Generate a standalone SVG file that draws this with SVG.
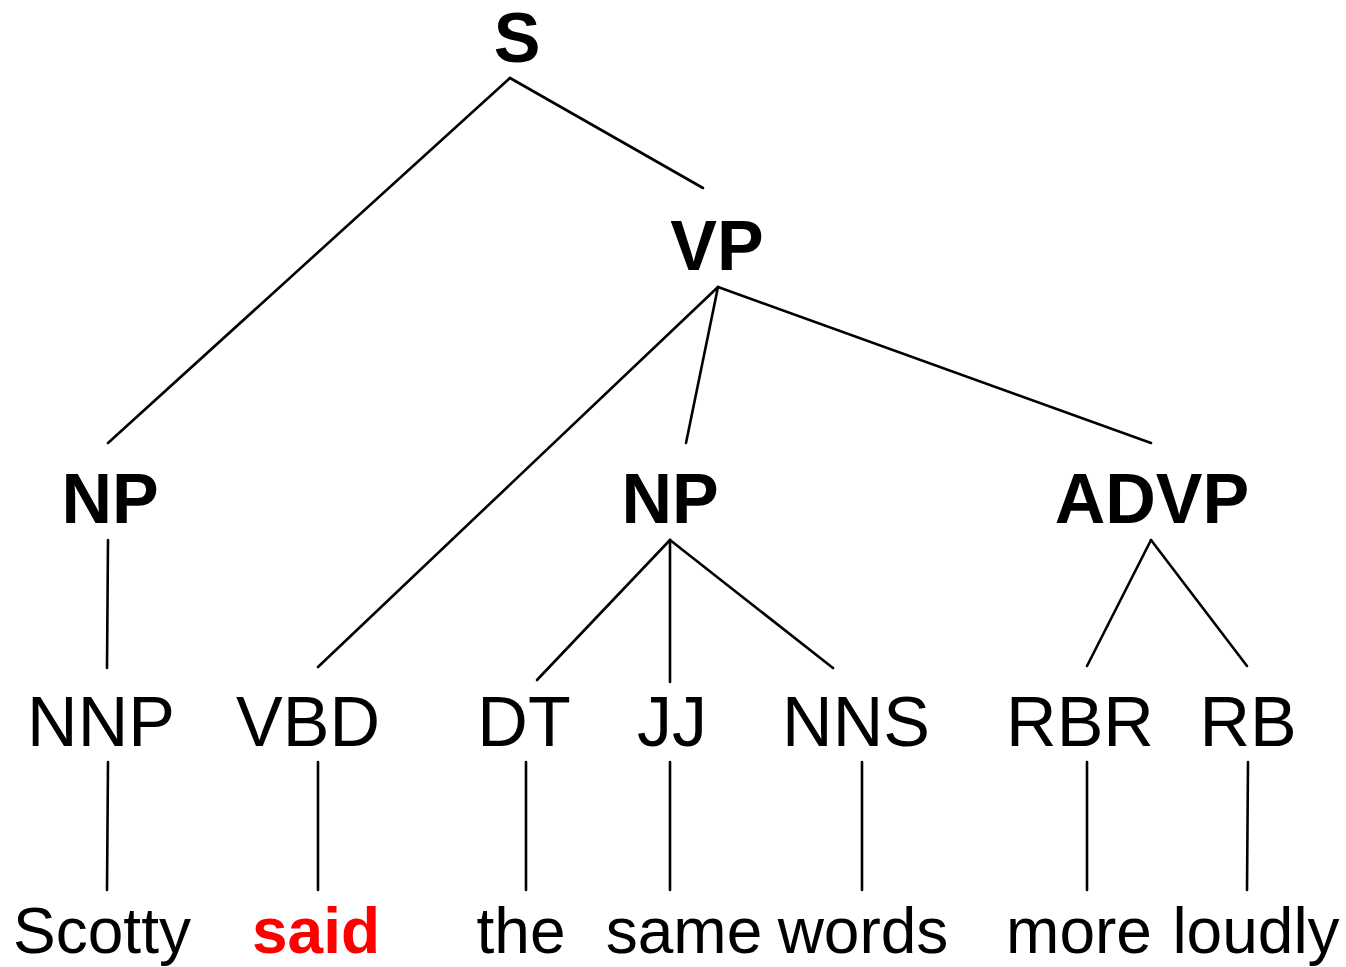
<svg xmlns="http://www.w3.org/2000/svg" width="1346" height="967" viewBox="0 0 1346 967">
  <style>
    .phrase { font-family: "Liberation Sans", Arial, sans-serif; font-weight: bold; font-size: 70px; fill: #000; text-anchor: middle; }
    .tag { font-family: "Liberation Sans", Arial, sans-serif; font-size: 70px; fill: #000; text-anchor: middle; }
    .word { font-family: "Liberation Sans", Arial, sans-serif; font-size: 64px; fill: #000; text-anchor: middle; }
    .head { font-weight: bold; fill: #ff0000; }
    .edge { stroke: #000; stroke-width: 2.6; fill: none; stroke-linecap: round; }
  </style>
  <rect width="1346" height="967" fill="#fff"/>

  <g id="connectors">
    <line class="edge" x1="510" y1="78" x2="108" y2="443"/>
    <line class="edge" x1="510" y1="78" x2="703" y2="188"/>
    <line class="edge" x1="718" y1="287" x2="318" y2="667"/>
    <line class="edge" x1="718" y1="287" x2="686" y2="443"/>
    <line class="edge" x1="718" y1="287" x2="1151" y2="443"/>
    <line class="edge" x1="108" y1="540" x2="107" y2="668"/>
    <line class="edge" x1="670" y1="540" x2="537" y2="680"/>
    <line class="edge" x1="670" y1="540" x2="670" y2="682"/>
    <line class="edge" x1="670" y1="540" x2="833" y2="668"/>
    <line class="edge" x1="1151" y1="540" x2="1087" y2="666"/>
    <line class="edge" x1="1151" y1="540" x2="1247" y2="666"/>
    <line class="edge" x1="108" y1="762" x2="107" y2="890"/>
    <line class="edge" x1="318" y1="762" x2="318" y2="890"/>
    <line class="edge" x1="526" y1="762" x2="526" y2="890"/>
    <line class="edge" x1="670" y1="762" x2="670" y2="890"/>
    <line class="edge" x1="862" y1="762" x2="862" y2="890"/>
    <line class="edge" x1="1087" y1="762" x2="1087" y2="890"/>
    <line class="edge" x1="1248" y1="762" x2="1247" y2="890"/>
  </g>

  <g id="node-S"><text class="phrase" x="517" y="62">S</text></g>
  <g id="node-VP"><text class="phrase" x="717" y="270">VP</text></g>
  <g id="node-NP-subj"><text class="phrase" x="110" y="523">NP</text></g>
  <g id="node-NP-obj"><text class="phrase" x="670" y="523">NP</text></g>
  <g id="node-ADVP"><text class="phrase" x="1152" y="523">ADVP</text></g>

  <g id="node-NNP"><text class="tag" x="101" y="746">NNP</text></g>
  <g id="node-VBD"><text class="tag" x="308" y="746">VBD</text></g>
  <g id="node-DT"><text class="tag" x="524" y="746">DT</text></g>
  <g id="node-JJ"><text class="tag" x="672" y="746">JJ</text></g>
  <g id="node-NNS"><text class="tag" x="856" y="746">NNS</text></g>
  <g id="node-RBR"><text class="tag" x="1080" y="746">RBR</text></g>
  <g id="node-RB"><text class="tag" x="1248" y="746">RB</text></g>

  <g id="word-Scotty"><text class="word" x="102" y="953">Scotty</text></g>
  <g id="word-said"><text class="word head" x="316" y="953">said</text></g>
  <g id="word-the"><text class="word" x="521" y="953">the</text></g>
  <g id="word-same"><text class="word" x="684" y="953">same</text></g>
  <g id="word-words"><text class="word" x="863" y="953">words</text></g>
  <g id="word-more"><text class="word" x="1079" y="953">more</text></g>
  <g id="word-loudly"><text class="word" x="1256" y="953">loudly</text></g>
</svg>
